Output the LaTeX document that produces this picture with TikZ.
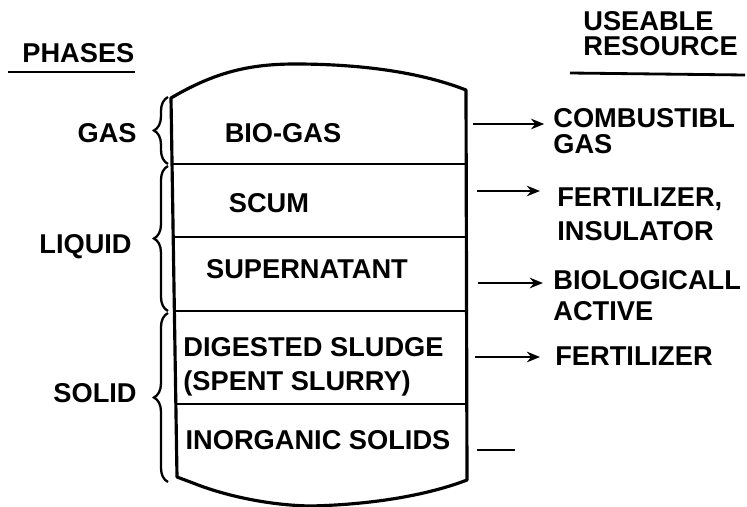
\documentclass[tikz,border=0pt]{standalone}
\usepackage{fontspec}
\setmainfont{Liberation Sans}
\usetikzlibrary{arrows.meta, decorations.pathreplacing}
\begin{document}
\begin{tikzpicture}[>={Stealth[length=7.5pt, width=6pt]}, x=0.02cm, y=-0.02cm,
  every node/.style={inner sep=0pt, font=\bfseries\fontsize{15.5}{11.4}\selectfont},
  layer/.style={anchor=base},
  phase/.style={anchor=base east},
  res/.style={anchor=base west, align=left},
  phasebrace/.style={decorate, decoration={brace, amplitude=8pt}, line width=1.3pt},
  flow/.style={->, line width=1.6pt}]
\useasboundingbox (0,0) rectangle (747,507);
% tank
\draw[line width=1.8pt, line join=round](171,98) .. controls (215,72) and (250,64) .. (295,64)
  .. controls (360,64) and (420,72) .. (466,90)--(467,480)
  .. controls (420,498) and (360,505) .. (310,506)
  .. controls (260,505) and (215,492) .. (193,483)--(177,477)--cycle;
\foreach \y/\xl in {164/172, 237/173.2, 311/174.4, 404/175.8}
{
    \draw[line width=1.4pt](\xl,\y)--(466.5,\y);
}
% layers
\node[layer] (biogas) at (283,142) {BIO-GAS};
\node[layer] (scum) at (269,212) {SCUM};
\node[layer] (super) at (307,278) {SUPERNATANT};
\node[anchor=base west, align=left] (sludge) at (183,390) {DIGESTED SLUDGE\\[7.4pt](SPENT SLURRY)};
\node[layer] (inorg) at (318,449) {INORGANIC SOLIDS};
% phases
\node[anchor=base west] (phases) at (22,62) {PHASES};
\draw[line width=1.6pt](8,72)--(135,72);
\node[phase] (gas) at (137,142) {GAS};
\node[phase] (liquid) at (132,253) {LIQUID};
\node[phase] (solid) at (137,402) {SOLID};
\draw[phasebrace](168,164)--(168,97);
\draw[phasebrace](168,311)--(168,166);
\draw[phasebrace](168,482)--(168,313);
% resources
\node[res] (useable) at (583,55) {USEABLE\\[2.8pt]RESOURCE};
\draw[line width=1.6pt](570,73)--(745,75);
\node[res] (comb) at (553,153) {COMBUSTIBL\\[3pt]GAS};
\node[res] (fert) at (557,240) {FERTILIZER,\\[5pt]INSULATOR};
\node[res] (bio) at (553,320) {BIOLOGICALL\\[5.7pt]ACTIVE};
\node[res] (fertb) at (555,365) {FERTILIZER};
\coordinate (a1) at (473,124);
\coordinate (a2) at (477,191);
\coordinate (a3) at (478,283);
\coordinate (a4) at (475,357);
\coordinate (a5) at (477,450);
\coordinate (b5) at (515,450);
\draw[flow, shorten >=5pt](a1)--(a1 -| comb.west);
\draw[flow, line width=1.2pt, shorten >=9.7pt](a2)--(a2 -| fert.west);
\draw[flow, shorten >=5.7pt](a3)--(a3 -| bio.west);
\draw[flow, shorten >=8.5pt](a4)--(a4 -| fertb.west);
\draw[line width=1.6pt](a5)--(b5);

\end{tikzpicture}
\end{document}
